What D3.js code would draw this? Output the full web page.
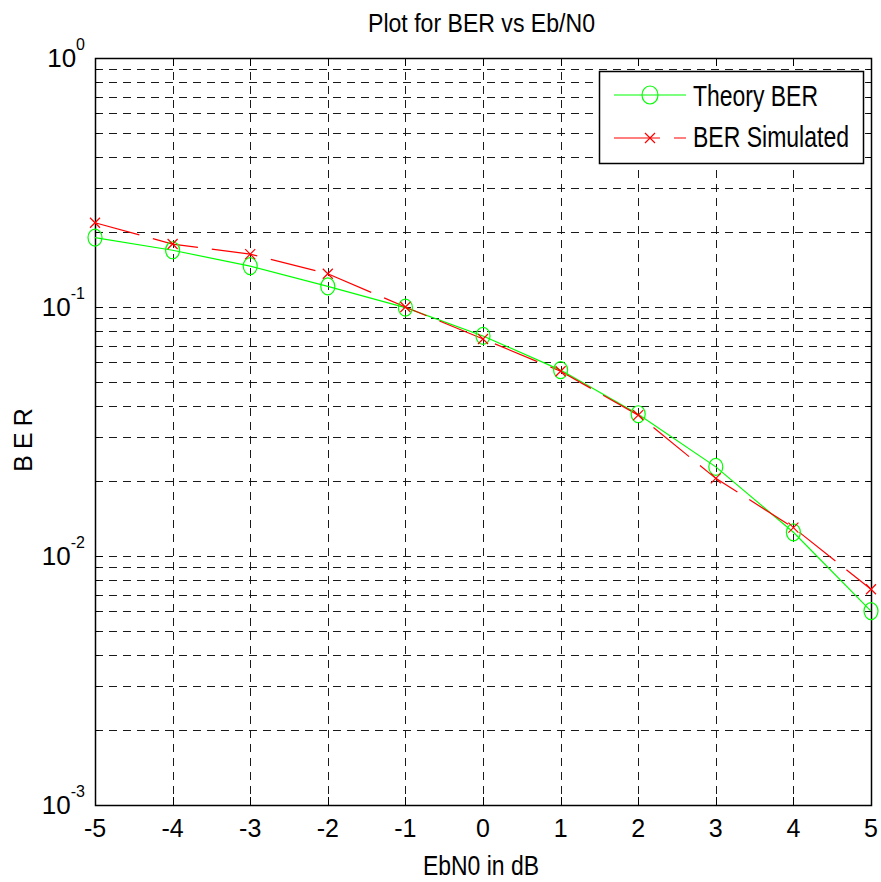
<!DOCTYPE html>
<html>
<head>
<meta charset="utf-8">
<script src="https://cdn.jsdelivr.net/npm/d3@7"></script>
<style>
  body { margin: 0; background: #fff; }
  svg text { font-family: "Liberation Sans Narrow", "Arial Narrow", "Liberation Sans", Arial, sans-serif; fill: #000; }
</style>
</head>
<body>
<div id="chart"></div>
<script>
// data
var ebn0 = [-5, -4, -3, -2, -1, 0, 1, 2, 3, 4, 5];
var berTheory = [0.190, 0.169, 0.146, 0.121, 0.0994, 0.0765, 0.0558, 0.0371, 0.0228, 0.01245, 0.00601];
var berSim = [0.218, 0.179, 0.163, 0.136, 0.100, 0.0744, 0.0552, 0.0368, 0.0205, 0.0130, 0.00735];
var xTicks = [-5, -4, -3, -2, -1, 0, 1, 2, 3, 4, 5];
var yDecades = [-3, -2, -1, 0];
var legendLabels = ['Theory BER', 'BER Simulated'];

var width = 881, height = 882;
var axLeft = 95, axRight = 871, axTop = 58, axBottom = 805;

var svg = d3.select('#chart')
    .append('svg')
    .attr('width', width)
    .attr('height', height);

var x = d3.scaleLinear().domain([-5, 5]).range([axLeft, axRight]);
var y = d3.scaleLog().domain([1e-3, 1]).range([axBottom, axTop]);

// minor values for the log grid
var minorVals = [];
yDecades.slice(0, 3).forEach(function(d) {
    for (var m = 2; m <= 9; m++) minorVals.push(m * Math.pow(10, d));
});
var majorVals = yDecades.map(function(d) { return Math.pow(10, d); });

var grid = svg.append('g')
    .attr('stroke', '#1a1a1a')
    .attr('stroke-width', 1)
    .attr('stroke-dasharray', '8,6')
    .attr('fill', 'none');

grid.selectAll('line.h')
    .data(minorVals.concat(majorVals.slice(1, 3)))
    .enter().append('line')
    .attr('x1', axLeft).attr('x2', axRight)
    .attr('y1', function(d) { return Math.round(y(d)) + 0.5; })
    .attr('y2', function(d) { return Math.round(y(d)) + 0.5; });

grid.selectAll('line.v')
    .data(xTicks.slice(1, -1))
    .enter().append('line')
    .attr('y1', axTop).attr('y2', axBottom)
    .attr('x1', function(d) { return Math.round(x(d)) + 0.5; })
    .attr('x2', function(d) { return Math.round(x(d)) + 0.5; });

// axes with inward ticks
var axisG = svg.append('g').attr('stroke', '#000').attr('stroke-width', 1);

axisG.selectAll('g.xt')
    .data(xTicks)
    .enter().append('g')
    .each(function(d) {
        var px = Math.round(x(d)) + 0.5;
        d3.select(this).append('line').attr('x1', px).attr('x2', px).attr('y1', axBottom).attr('y2', axBottom - 8);
        d3.select(this).append('line').attr('x1', px).attr('x2', px).attr('y1', axTop).attr('y2', axTop + 8);
    });

axisG.selectAll('g.yt')
    .data(majorVals.concat(minorVals))
    .enter().append('g')
    .each(function(d) {
        var py = Math.round(y(d)) + 0.5;
        var len = majorVals.indexOf(d) >= 0 ? 8 : 4;
        d3.select(this).append('line').attr('x1', axLeft).attr('x2', axLeft + len).attr('y1', py).attr('y2', py);
        d3.select(this).append('line').attr('x1', axRight).attr('x2', axRight - len).attr('y1', py).attr('y2', py);
    });

svg.append('rect')
    .attr('x', axLeft + 0.5).attr('y', axTop + 0.5)
    .attr('width', axRight - axLeft).attr('height', axBottom - axTop)
    .attr('fill', 'none')
    .attr('stroke', '#000')
    .attr('stroke-width', 1.5);

// tick labels
svg.selectAll('text.xl')
    .data(xTicks)
    .enter().append('text')
    .attr('x', function(d) { return x(d); })
    .attr('y', 837)
    .attr('text-anchor', 'middle')
    .attr('font-size', 25)
    .text(function(d) { return d; });

var yl = svg.selectAll('text.yl')
    .data(yDecades)
    .enter().append('text')
    .attr('x', 85)
    .attr('y', function(d) { return y(Math.pow(10, d)) + 9; })
    .attr('text-anchor', 'end')
    .attr('font-size', 26);
yl.append('tspan').text('10');
yl.append('tspan')
    .attr('font-size', 16)
    .attr('dy', -17)
    .text(function(d) { return d; });

// lines
var line = d3.line()
    .x(function(d) { return x(d[0]); })
    .y(function(d) { return y(d[1]); });

var theoryPts = ebn0.map(function(e, i) { return [e, berTheory[i]]; });
var simPts = ebn0.map(function(e, i) { return [e, berSim[i]]; });

svg.append('path')
    .datum(theoryPts)
    .attr('d', line)
    .attr('fill', 'none')
    .attr('stroke', '#00ff00')
    .attr('stroke-width', 1.2);

svg.append('path')
    .datum(simPts)
    .attr('d', line)
    .attr('fill', 'none')
    .attr('stroke', '#ff0000')
    .attr('stroke-width', 1.2)
    .attr('stroke-dasharray', '46,14');

svg.selectAll('ellipse.th')
    .data(theoryPts)
    .enter().append('ellipse')
    .attr('cx', function(d) { return x(d[0]); })
    .attr('cy', function(d) { return y(d[1]); })
    .attr('rx', 7).attr('ry', 8.5)
    .attr('fill', 'none')
    .attr('stroke', '#00ff00')
    .attr('stroke-width', 1.2);

function cross(sel, cx, cy) {
    sel.append('path')
        .attr('d', 'M' + (cx - 5) + ',' + (cy - 5) + 'L' + (cx + 5) + ',' + (cy + 5) +
                   'M' + (cx - 5) + ',' + (cy + 5) + 'L' + (cx + 5) + ',' + (cy - 5))
        .attr('stroke', '#ff0000')
        .attr('stroke-width', 1.2);
}

var marks = svg.append('g');
simPts.forEach(function(d) { cross(marks, x(d[0]), y(d[1])); });

// legend
var lg = svg.append('g');
lg.append('rect')
    .attr('x', 599.5).attr('y', 71.5)
    .attr('width', 264).attr('height', 92)
    .attr('fill', '#fff')
    .attr('stroke', '#000')
    .attr('stroke-width', 1.5);

lg.append('line')
    .attr('x1', 614).attr('x2', 686).attr('y1', 95).attr('y2', 95)
    .attr('stroke', '#00ff00').attr('stroke-width', 1.2);
lg.append('ellipse')
    .attr('cx', 650).attr('cy', 95).attr('rx', 8).attr('ry', 9)
    .attr('fill', 'none').attr('stroke', '#00ff00').attr('stroke-width', 1.2);

lg.append('line')
    .attr('x1', 614).attr('x2', 686).attr('y1', 138).attr('y2', 138)
    .attr('stroke', '#ff0000').attr('stroke-width', 1.2)
    .attr('stroke-dasharray', '46,14');
cross(lg, 650, 138);

lg.selectAll('text')
    .data(legendLabels)
    .enter().append('text')
    .attr('x', 693)
    .attr('y', function(d, i) { return 106 + i * 41; })
    .attr('font-size', 29)
    .attr('textLength', function(d, i) { return i === 0 ? 125 : 156; })
    .attr('lengthAdjust', 'spacingAndGlyphs')
    .text(function(d) { return d; });

// titles
svg.append('text')
    .attr('x', 368).attr('y', 32)
    .attr('font-size', 25)
    .attr('textLength', 227)
    .attr('lengthAdjust', 'spacingAndGlyphs')
    .text('Plot for BER vs Eb/N0');

svg.append('text')
    .attr('x', 423).attr('y', 875)
    .attr('font-size', 27)
    .attr('textLength', 116)
    .attr('lengthAdjust', 'spacingAndGlyphs')
    .text('EbN0 in dB');

svg.append('text')
    .attr('transform', 'translate(32,437) rotate(-90)')
    .attr('text-anchor', 'middle')
    .attr('font-size', 25)
    .attr('letter-spacing', 6)
    .text('BER');
</script>
</body>
</html>
